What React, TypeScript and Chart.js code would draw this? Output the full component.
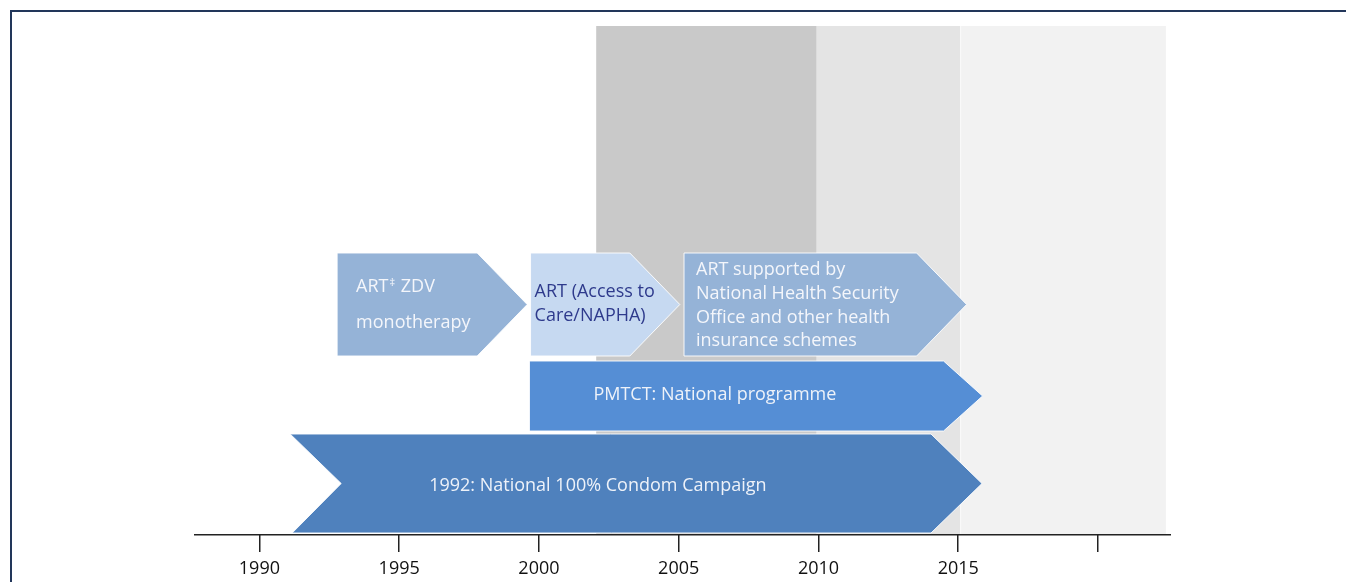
import React, { useEffect, useRef } from 'react';
import { Chart, registerables } from 'chart.js';

Chart.register(...registerables);

// ---- data ----
const tickYears = [1990, 1995, 2000, 2005, 2010, 2015, 2020];
const tickLabels = ['1990', '1995', '2000', '2005', '2010', '2015', ''];

const bandNames = ['Period A', 'Period B', 'Period C'];
const bandStart = [2002.06, 2009.91, 2015.06];
const bandEnd = [2009.91, 2015.06, 2022.43];

const arrowNames = ['condom', 'pmtct', 'zdv', 'napha', 'nhso'];
const arrowStart = [1991.1, 1999.66, 1992.78, 1999.7, 2005.19];
const arrowEnd = [2015.85, 2015.87, 1999.58, 2005.04, 2015.3];
const arrowLabels = [
  ['1992: National 100% Condom Campaign'],
  ['PMTCT: National programme'],
  ['ART‡ ZDV', 'monotherapy'],
  ['ART (Access to', 'Care/NAPHA)'],
  ['ART supported by', 'National Health Security', 'Office and other health', 'insurance schemes'],
];

// ---- layout / style ----
const X_MIN = 1987.66;
const X_MAX = 2022.54;
const FONT = '"Open Sans", "Noto Sans", sans-serif';
const TEXT_SIZE = 18;
const bandColors = ['#c9c9c9', '#e4e4e4', '#f2f2f2'];
const bandBorderLeft = [0, 0, 1.5];

const arrowStyles = [
  { bottom: 1, top: 100, tip: 51, notch: 51, fill: '#4f81bd', text: '#eef2f9', dx: 139, baselines: [57] },
  { bottom: 103, top: 173, tip: 39, notch: 0, fill: '#558ed5', text: '#eef2f9', dx: 64, baselines: [39] },
  { bottom: 178, top: 281, tip: 50, notch: 0, fill: '#95b3d7', text: '#f4f6fb', dx: 19, baselines: [39, 75] },
  { bottom: 178, top: 281, tip: 50, notch: 0, fill: '#c6d9f1', text: '#2e3a8c', dx: 4, baselines: [44, 68] },
  { bottom: 178, top: 281, tip: 50, notch: 0, fill: '#95b3d7', text: '#f4f6fb', dx: 12, baselines: [22, 46, 70, 93] },
];

const arrowPlugin = {
  id: 'timelineArrows',
  afterDatasetsDraw(chart: any) {
    const { ctx, chartArea, scales } = chart;
    const xs = scales.x;
    const base = chartArea.bottom;
    ctx.save();
    arrowNames.forEach((_, i) => {
      const st = arrowStyles[i];
      const x0 = xs.getPixelForValue(arrowStart[i]);
      const x1 = xs.getPixelForValue(arrowEnd[i]);
      const yt = base - st.top;
      const yb = base - st.bottom;
      const ym = (yt + yb) / 2;
      ctx.beginPath();
      ctx.moveTo(x0, yt);
      ctx.lineTo(x1 - st.tip, yt);
      ctx.lineTo(x1, ym);
      ctx.lineTo(x1 - st.tip, yb);
      ctx.lineTo(x0 + (st.notch ? 2 : 0), yb);
      if (st.notch) ctx.lineTo(x0 + st.notch, ym);
      ctx.closePath();
      ctx.fillStyle = st.fill;
      ctx.fill();
      ctx.strokeStyle = 'rgba(255,255,255,0.9)';
      ctx.lineWidth = 1;
      ctx.stroke();

      ctx.fillStyle = st.text;
      ctx.textBaseline = 'alphabetic';
      ctx.textAlign = 'left';
      arrowLabels[i].forEach((line, j) => {
        const ty = yt + st.baselines[j];
        let tx = x0 + st.dx;
        if (line.includes('‡')) {
          const parts = line.split('‡');
          ctx.font = `${TEXT_SIZE}px ${FONT}`;
          ctx.fillText(parts[0], tx, ty);
          tx += ctx.measureText(parts[0]).width + 1;
          ctx.font = `11px ${FONT}`;
          ctx.fillText('‡', tx, ty - 6);
          tx += ctx.measureText('‡').width + 1;
          ctx.font = `${TEXT_SIZE}px ${FONT}`;
          ctx.fillText(parts[1], tx, ty);
        } else {
          ctx.font = `${TEXT_SIZE}px ${FONT}`;
          ctx.fillText(line, tx, ty);
        }
      });
    });
    ctx.restore();
  },
  afterDraw(chart: any) {
    const { ctx, chartArea } = chart;
    ctx.save();
    ctx.strokeStyle = '#222';
    ctx.lineWidth = 1.5;
    ctx.beginPath();
    ctx.moveTo(chartArea.left, chartArea.bottom + 0.75);
    ctx.lineTo(chartArea.right + 2, chartArea.bottom + 0.75);
    ctx.stroke();
    ctx.restore();
  },
};

export default function App() {
  const ref = useRef<HTMLCanvasElement | null>(null);
  useEffect(() => {
    if (!ref.current) return;
    const chart = new Chart(ref.current, {
      type: 'bar',
      data: {
        labels: [''],
        datasets: bandNames.map((name, i) => ({
          label: name,
          data: [[bandStart[i], bandEnd[i]]] as any,
          backgroundColor: bandColors[i],
          borderColor: '#ffffff',
          borderWidth: { left: bandBorderLeft[i], right: 0, top: 0, bottom: 0 },
          borderSkipped: false,
          barPercentage: 1,
          categoryPercentage: 1,
          grouped: false,
        })),
      },
      options: {
        indexAxis: 'y',
        animation: false,
        responsive: true,
        maintainAspectRatio: false,
        layout: { padding: { left: 194, right: 177, top: 26, bottom: 0 } },
        plugins: { legend: { display: false }, tooltip: { enabled: false } },
        scales: {
          y: { type: 'category', display: false },
          x: {
            type: 'linear',
            min: X_MIN,
            max: X_MAX,
            afterBuildTicks: (scale: any) => {
              scale.ticks = tickYears.map((v) => ({ value: v }));
            },
            afterFit: (scale: any) => {
              scale.height = 48;
            },
            ticks: {
              callback: (_v: any, idx: number) => tickLabels[idx],
              color: '#111',
              font: { family: FONT, size: 18 },
              padding: 6,
              maxRotation: 0,
              autoSkip: false,
            },
            grid: {
              display: true,
              drawOnChartArea: false,
              drawTicks: true,
              tickLength: 18,
              color: '#222',
              lineWidth: 1.5,
            },
            border: { display: false },
          },
        },
      },
      plugins: [arrowPlugin],
    });
    return () => chart.destroy();
  }, []);

  return (
    <div style={{ position: 'fixed', left: 0, top: 0, width: 1346, height: 582, background: '#fff' }}>
      <div
        style={{
          position: 'absolute',
          left: 10,
          top: 10,
          right: 0,
          bottom: 0,
          borderTop: '2px solid #22365a',
          borderLeft: '2px solid #22365a',
          pointerEvents: 'none',
        }}
      />
      <div style={{ position: 'absolute', left: 0, top: 0, width: 1346, height: 582 }}>
        <canvas ref={ref} />
      </div>
    </div>
  );
}
